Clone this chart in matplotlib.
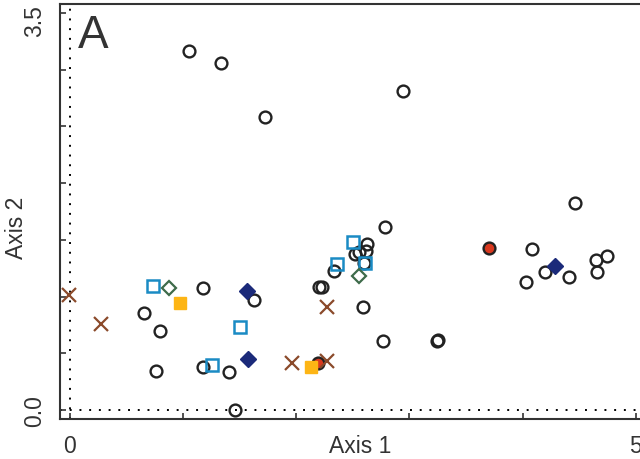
import matplotlib
matplotlib.use("Agg")
import matplotlib.pyplot as plt
import matplotlib.transforms as mtransforms

# open black circles
circle_x = [1.057, 1.337, 1.726, 2.946, 1.176, 1.631, 0.658, 0.799, 0.761, 1.176,
            1.410, 1.461, 2.785, 2.628, 2.520, 2.558, 2.617, 2.599, 2.337, 2.205,
            2.226, 2.590, 2.770, 3.245, 3.255, 4.079, 4.197, 4.029, 4.409, 4.647,
            4.744, 4.653, 4.466]
circle_y = [3.168, 3.063, 2.581, 2.813, 1.073, 0.973, 0.853, 0.699, 0.341, 0.377,
            0.332, 0.000, 1.611, 1.464, 1.376, 1.391, 1.405, 1.294, 1.223, 1.082,
            1.082, 0.908, 0.608, 0.611, 0.614, 1.420, 1.221, 1.133, 1.173, 1.323,
            1.361, 1.214, 1.825]

red_x = [3.702, 2.196]
red_y = [1.429, 0.414]

cross_x = [-0.004, 0.275, 2.270, 1.961, 2.270]
cross_y = [1.017, 0.756, 0.906, 0.412, 0.435]

orange_x = [0.975, 2.129]
orange_y = [0.946, 0.377]

blue_x = [0.740, 1.505, 1.258, 2.502, 2.358, 2.608]
blue_y = [1.096, 0.735, 0.399, 1.485, 1.285, 1.294]

green_x = [0.881, 2.558]
green_y = [1.076, 1.184]

navy_x = [1.569, 1.578, 4.285]
navy_y = [1.047, 0.450, 1.274]

plt.rcParams["font.family"] = ["Liberation Sans", "DejaVu Sans"]

fig = plt.figure(figsize=(6.4, 4.6), dpi=100)
ax = fig.add_axes([60 / 640, 40 / 460, 585 / 640, 415 / 460])

ax.axvline(0, color="black", lw=1.4, ls=(0, (1, 4)), zorder=1)
ax.axhline(0, color="black", lw=1.4, ls=(0, (1, 4)), zorder=1)

ax.plot(circle_x, circle_y, "o", ms=8.5, mfc="none", mec="#222222", mew=1.7, zorder=3)
ax.plot(red_x, red_y, "o", ms=8.5, mfc="#d9381e", mec="#222222", mew=1.7, zorder=4)
ax.plot(cross_x, cross_y, "x", ms=10, mec="#8b4a2b", mew=1.6, zorder=4)
ax.plot(orange_x, orange_y, "s", ms=9, mfc="#fdb515", mec="#fdb515", mew=1, zorder=4)
ax.plot(blue_x, blue_y, "s", ms=8, mfc="none", mec="#1a8bc4", mew=1.8, zorder=4)
ax.plot(green_x, green_y, "D", ms=7, mfc="none", mec="#3e6b4a", mew=1.6, zorder=4)
ax.plot(navy_x, navy_y, "D", ms=8, mfc="#1b2a7a", mec="#1b2a7a", mew=1, zorder=4)

ax.set_xlim(-0.084, 5.08)
ax.set_ylim(-0.079, 3.58)

ax.set_xticks([0, 1, 2, 3, 4, 5])
ax.set_xticklabels(["0", "", "", "", "", "5"])
ax.set_yticks([0, 0.5, 1.0, 1.5, 2.0, 2.5, 3.0, 3.5])
ax.set_yticklabels(["0.0", "", "", "", "", "", "", "3.5"], rotation=90, va="center")
ax.tick_params(direction="in", length=4, width=1.2, colors="#333333",
               labelsize=16.5, labelcolor="#333333")
ax.tick_params(axis="x", pad=11)
ax.tick_params(axis="y", pad=10)

# the top label sits a little lower than its tick
top_lab = ax.get_yticklabels()[-1]
top_lab.set_transform(top_lab.get_transform()
                      + mtransforms.ScaledTranslation(0, -5 / 72, fig.dpi_scale_trans))

for s in ax.spines.values():
    s.set_linewidth(1.5)
    s.set_color("#333333")

ax.set_xlabel("Axis 1", fontsize=16.5, color="#333333")
ax.xaxis.set_label_coords(0.513, -0.036)
ax.set_ylabel("Axis 2", fontsize=16.5, color="#333333")
ax.yaxis.set_label_coords(-0.054, 0.463)

fig.text(78 / 640, 1 - 48 / 460, "A", fontsize=33, color="#333333", va="baseline")

fig.savefig("out.png", dpi=100)
